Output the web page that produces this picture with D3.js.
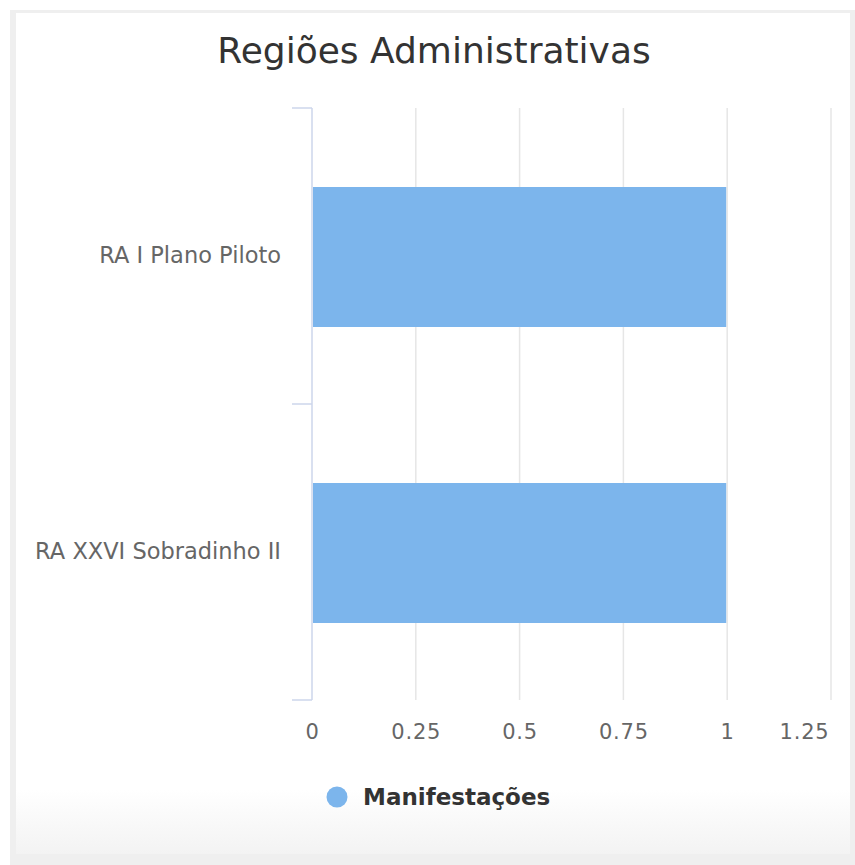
<!DOCTYPE html>
<meta charset="utf-8">
<title>Regiões Administrativas</title>
<style>
  body { margin: 0; background: #fff; font-family: "DejaVu Sans", sans-serif; }
</style>
<body>
<div id="chart"></div>
<script src="https://cdn.jsdelivr.net/npm/d3@7"></script>
<script>

var categories = ["RA I Plano Piloto", "RA XXVI Sobradinho II"];
var values = [1, 1];
var seriesName = "Manifestações";
var xTicks = [0, 0.25, 0.5, 0.75, 1, 1.25];

var W = 855, H = 865;
var margin = {top: 108, left: 312, right: 24, bottom: 165};

var svg = d3.select("#chart").append("svg")
    .attr("width", W).attr("height", H);

// frame + gradient
var defs = svg.append("defs");
var grad = defs.append("linearGradient").attr("id", "fade")
    .attr("x1", 0).attr("y1", 0).attr("x2", 0).attr("y2", 1);
grad.append("stop").attr("offset", "0").attr("stop-color", "#ffffff");
grad.append("stop").attr("offset", "1").attr("stop-color", "#f3f3f3");

svg.append("rect").attr("x", 10).attr("y", 10).attr("width", W - 10).attr("height", H - 10)
    .attr("fill", "#efefef");
svg.append("rect").attr("x", 16).attr("y", 13).attr("width", 834).attr("height", 841)
    .attr("fill", "#fff");
svg.append("rect").attr("x", 16).attr("y", 790).attr("width", 834).attr("height", 64)
    .attr("fill", "url(#fade)");

svg.append("text")
    .attr("x", 434).attr("y", 63)
    .attr("text-anchor", "middle")
    .style("font-size", "36px")
    .style("fill", "#333")
    .text("Regiões Administrativas");

var width = 831 - margin.left, height = 700 - margin.top;
var g = svg.append("g").attr("transform", "translate(" + margin.left + "," + margin.top + ")");

var x = d3.scaleLinear().domain([0, 1.25]).range([0, width]);
var y = d3.scaleBand().domain(categories).range([0, height]).paddingInner(0).paddingOuter(0);

// grid
g.selectAll(".grid").data(xTicks.slice(1)).enter().append("line")
    .attr("x1", function(d) { return x(d); }).attr("x2", function(d) { return x(d); })
    .attr("y1", 0).attr("y2", height)
    .attr("stroke", "#e6e6e6").attr("stroke-width", 1.5);

// bars
var barH = 140;
g.selectAll(".bar").data(categories).enter().append("rect")
    .attr("x", x(0) + 1)
    .attr("y", function(d) { return y(d) + (y.bandwidth() - barH) / 2 + 1; })
    .attr("width", function(d, i) { return x(values[i]) - x(0) - 2; })
    .attr("height", barH)
    .attr("fill", "#7cb5ec");

// y axis
var yAxis = g.append("g").call(d3.axisLeft(y).tickSize(0).tickPadding(31));
yAxis.select(".domain").remove();
yAxis.selectAll("text").style("font-size", "22.5px").style("fill", "#666")
    .style("font-family", "DejaVu Sans, sans-serif");

g.append("line").attr("x1", 0).attr("x2", 0).attr("y1", 0).attr("y2", height)
    .attr("stroke", "#ccd6eb").attr("stroke-width", 1.5);
var bounds = [0].concat(categories.map(function(d) { return y(d) + y.bandwidth(); }));
g.selectAll(".tk").data(bounds).enter().append("line")
    .attr("x1", -20).attr("x2", 0)
    .attr("y1", function(d) { return d; }).attr("y2", function(d) { return d; })
    .attr("stroke", "#ccd6eb").attr("stroke-width", 1.5);

// x axis labels
var xAxis = g.append("g").attr("transform", "translate(0," + height + ")")
    .call(d3.axisBottom(x).tickValues(xTicks).tickSize(0).tickPadding(24)
      .tickFormat(function(d) { return String(d); }));
xAxis.select(".domain").remove();
xAxis.selectAll("text").style("font-size", "21px").style("fill", "#666")
    .style("letter-spacing", "0.8px")
    .style("font-family", "DejaVu Sans, sans-serif");
// last label is pulled inside the plot, like the original
xAxis.selectAll("text").filter(function(d) { return d === xTicks[xTicks.length - 1]; })
    .attr("text-anchor", "end").attr("dx", -2);

// legend
var lg = svg.append("g").attr("transform", "translate(337,797)");
lg.append("circle").attr("r", 10.5).attr("fill", "#7cb5ec");
lg.append("text").attr("x", 26).attr("y", 8)
    .style("font-size", "23px").style("font-weight", "bold").style("fill", "#333")
    .text(seriesName);

</script>
</body>
